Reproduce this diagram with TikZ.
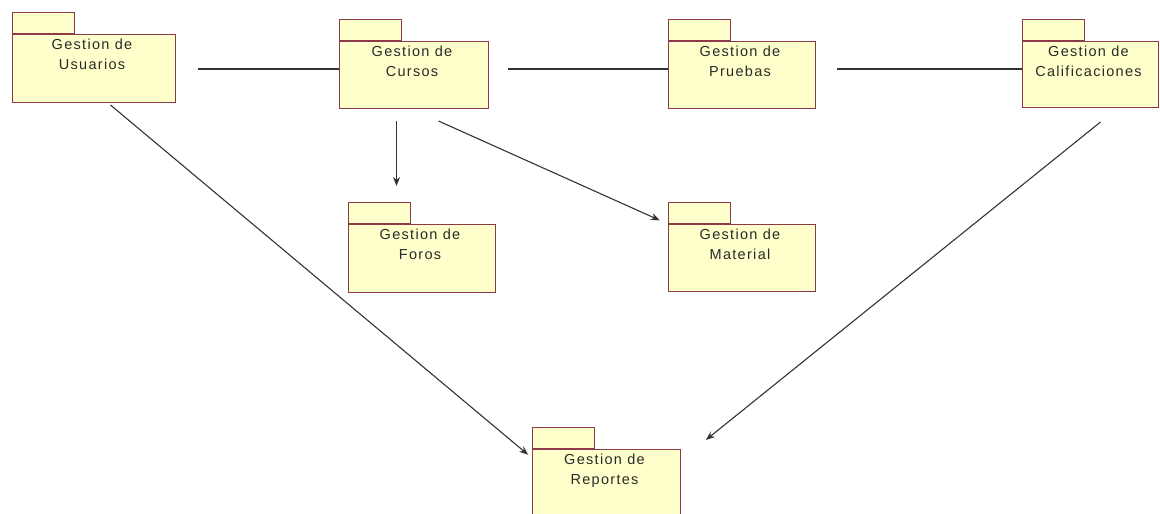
\documentclass[tikz,border=0pt]{standalone}
\usepackage{fontspec}
\setmainfont{Liberation Sans}[LetterSpace=9]
\usetikzlibrary{arrows.meta}

\definecolor{pkgfill}{HTML}{FFFFCC}
\definecolor{pkgline}{HTML}{8B3A4A}
\definecolor{wire}{HTML}{333333}
\definecolor{titleink}{HTML}{2A2A2A}

\tikzset{
  pkgbody/.style={draw=pkgline, fill=pkgfill, line width=1pt, anchor=north west, inner sep=0pt},
  pkgtab/.style={draw=pkgline, fill=pkgfill, line width=1pt, anchor=south west, inner sep=0pt,
                 minimum width=62pt, minimum height=21pt},
  pkgtitle/.style={anchor=north, align=center, font=\fontsize{14.5}{19.5}\selectfont,
                   inner sep=0pt, text=titleink},
  assoc/.style={draw=wire, line width=1.1pt},
  dep/.style={assoc, -{Stealth[length=9pt,width=7pt]}},
}

% UML package: name, x, y of body top, width, height, title
\newcommand\umlpackage[6]{%
  \node[pkgbody, minimum width=#4pt, minimum height=#5pt] (#1) at (#2,#3) {};
  \node[pkgtab] (#1-tab) at (#1.north west) {};
  \node[pkgtitle] (#1-title) at ([xshift=-2pt,yshift=-5pt]#1.north) {#6};
}

\begin{document}
\begin{tikzpicture}[x=1pt, y=-1pt]
  \useasboundingbox (0,0) rectangle (1160,514);
  \clip (0,0) rectangle (1160,514);

  \umlpackage{usuarios}{12}{34}{163}{68}{Gestion de\\Usuarios}
  \umlpackage{cursos}{339}{41}{149}{67}{Gestion de\\Cursos}
  \umlpackage{pruebas}{668}{41}{147}{67}{Gestion de\\Pruebas}
  \umlpackage{calif}{1022}{41}{136}{66}{Gestion de\\Calificaciones}
  \umlpackage{foros}{348}{224}{147}{68}{Gestion de\\Foros}
  \umlpackage{material}{668}{224}{147}{67}{Gestion de\\Material}
  \umlpackage{reportes}{532}{449}{148}{70}{Gestion de\\Reportes}

  % associations along the top row
  \coordinate (hl) at (0,69);
  \draw[assoc, shorten <=22pt] (usuarios.east |- hl) -- (cursos.west |- hl);
  \draw[assoc, shorten <=19pt] (cursos.east |- hl) -- (pruebas.west |- hl);
  \draw[assoc, shorten <=21pt] (pruebas.east |- hl) -- (calif.west |- hl);

  % dependencies
  \coordinate (fstart) at ([xshift=-17.5pt,yshift=-12pt]cursos.south);
  \draw[dep, shorten >=16pt] (fstart) -- (fstart |- foros-tab.north);

  \coordinate (mstart) at ([xshift=24.5pt,yshift=-12pt]cursos.south);
  \draw[dep, shorten >=9pt] (mstart) -- (material.north west);

  \coordinate (ustart) at ([xshift=16.5pt,yshift=-2pt]usuarios.south);
  \coordinate (rleft) at ([yshift=-9pt]reportes.north west);
  \draw[dep, shorten >=5pt] (ustart) -- (rleft);

  \coordinate (cstart) at ([xshift=10pt,yshift=-14pt]calif.south);
  \coordinate (rright) at ([yshift=-11pt]reportes.north east);
  \draw[dep, shorten >=32pt] (cstart) -- (rright);
\end{tikzpicture}
\end{document}
